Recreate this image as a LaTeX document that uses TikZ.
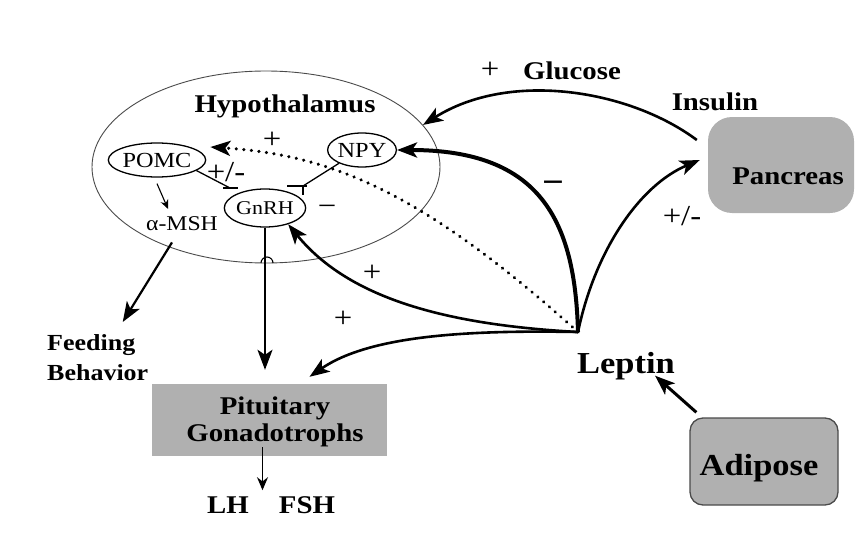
\documentclass[tikz,border=0pt]{standalone}
\usepackage{fontspec}
\setmainfont{Liberation Serif}[FakeStretch=1.13]
\usetikzlibrary{arrows.meta, shapes.geometric}
\definecolor{organgray}{HTML}{B0B0B0}
\definecolor{rimgray}{HTML}{4A4A4A}

\begin{document}
\begin{tikzpicture}[x=1pt, y=-1pt,
    lbl/.style={font=\fontsize{25.5}{27}\selectfont\bfseries, inner sep=0pt},
    biglbl/.style={font=\fontsize{30.5}{33}\selectfont\bfseries, inner sep=0pt},
    sign/.style={font=\fontsize{29}{30}\selectfont, inner sep=0pt},
    cell/.style={ellipse, draw, line width=1.3pt, inner sep=0pt,
                 font=\fontsize{21.5}{23}\selectfont},
    organ/.style={rectangle, fill=organgray, inner sep=0pt},
    arr/.style={-{Stealth[length=20pt, width=15pt, inset=5pt]}, line width=2.6pt},
    fine/.style={-{Stealth[length=9pt, width=8pt]}, line width=1.1pt},
    inh/.style={line width=1.3pt}
  ]
  \useasboundingbox (0,0) rectangle (856,551);
  \node[ellipse, draw=rimgray, line width=0.9pt, minimum width=348pt,
        minimum height=192pt, inner sep=0pt] (hypo) at (266,167) {};
  \node[lbl, anchor=base] (hyponame) at (285,112) {Hypothalamus};
  \node[cell, minimum width=84pt, minimum height=34pt] (pomc) at (157,160) {POMC};
  \node[cell, minimum width=64pt, minimum height=34pt] (npy) at (362,150) {NPY};
  \node[cell, minimum width=76pt, minimum height=38pt,
        font=\fontsize{19.5}{21}\selectfont] (gnrh) at (265,208) {GnRH};
  \node[anchor=base, inner sep=0pt, font=\fontsize{21}{23}\selectfont] (msh) at (182,230) {α-MSH};

  \node[organ, minimum width=235pt, minimum height=72pt] (pit) at (269.5,420) {};
  \node[lbl, align=center] (pitname) at (275,422) {Pituitary\\Gonadotrophs};
  \node[lbl, anchor=base] (lh) at (228,513) {LH};
  \node[lbl, anchor=base] (fsh) at (307,513) {FSH};
  \node[lbl, anchor=north west, align=left,
        font=\fontsize{23}{30}\selectfont\bfseries] (feed) at (47,334) {Feeding\\Behavior};

  \node[organ, rounded corners=24pt, minimum width=146pt, minimum height=96pt] (panc) at (781,165) {};
  \node[lbl, anchor=base] (pancname) at (788,184) {Pancreas};
  \node[organ, draw=rimgray, line width=1.3pt, rounded corners=13pt,
        minimum width=148pt, minimum height=87pt] (adip) at (764,461.5) {};
  \node[biglbl, anchor=base] (adipname) at (759,475) {Adipose};
  \node[biglbl, anchor=base] (leptin) at (626,373) {Leptin};
  \node[lbl, anchor=base] (insulin) at (715,110) {Insulin};
  \node[lbl, anchor=base] (glucose) at (572,79) {Glucose};

  \node[sign] (plusglu) at (490,70) {+};
  \node[sign] (plusdot) at (272,140) {+};
  \node[sign] (pmpomc) at (226,172) {+/-};
  \node[sign] (minusgnrh) at (327,210) {−};
  \node[sign, font=\fontsize{34}{36}\selectfont\bfseries] (minusnpy) at (553,187) {−};
  \node[sign] (pmpanc) at (682,216) {+/-};
  \node[sign] (plusgnrh) at (372,273) {+};
  \node[sign] (pluspit) at (343,319) {+};
  \coordinate (hub) at (578,332);
  \coordinate (pg) at (230,188);
  \coordinate (ng) at (303,186);

  \draw[arr] ([xshift=-11pt, yshift=25pt]panc.west) .. controls (630,90) and (510,70) .. (hypo.15);
  \draw[arr, line width=4pt] (hub) .. controls (575,220) and (540,150) .. (npy.east);
  \draw[arr] (hub) .. controls (595,250) and (640,185) .. ([xshift=-8pt, yshift=5pt]panc.west);
  \draw[arr] (hub) .. controls (450,325) and (350,300) .. (gnrh.-35);
  \draw[arr] (hub) .. controls (470,330) and (370,335) .. ([xshift=40pt, yshift=7pt]pit.north);
  \draw[arr, line width=3.4pt, line cap=round, dash pattern=on 0.1pt off 7.5pt]
    (hub) .. controls (420,190) and (330,155) .. ([xshift=4pt, yshift=13pt]pomc.east);
  \draw[arr, line width=3pt] ([xshift=7pt, yshift=5pt]adip.north west)
    -- ([xshift=-20pt, yshift=4pt]leptin.south east);

  \draw[arr, line width=2.2pt, shorten >=14pt] (gnrh.south) -- (gnrh.south |- pit.north);
  \draw[line width=1.1pt] (261,263) arc[start angle=180, end angle=360, radius=6];
  \draw[arr, line width=2.2pt] ([xshift=-10pt, yshift=-12pt]msh.south)
    -- ([xshift=25pt, yshift=12pt]feed.north);
  \draw[fine] ([yshift=-6pt]pomc.south) -- ([xshift=-14pt, yshift=7pt]msh.north);
  \draw[inh] (pomc.-15) -- (pg);
  \draw[inh] ([xshift=-7pt]pg) -- ([xshift=8pt]pg);
  \draw[inh] (npy.210) -- (ng);
  \draw[inh] ([xshift=-16pt]ng) -- ([xshift=4pt]ng) (ng) -- ([yshift=-9pt]ng);
  \draw[-{Stealth[length=13pt, width=11pt]}, line width=1.4pt]
    ([xshift=-7pt, yshift=9pt]pit.south) -- ++(0,43);
\end{tikzpicture}
\end{document}
